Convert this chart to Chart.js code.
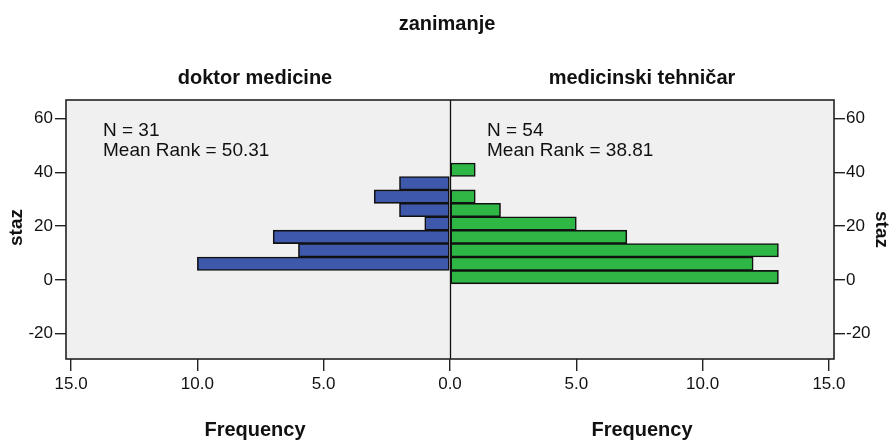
<!DOCTYPE html>
<html>
<head>
<meta charset="utf-8">
<title>zanimanje – staz</title>
<script src="https://cdn.jsdelivr.net/npm/chart.js@4/dist/chart.umd.min.js"></script>
<style>
  html, body { margin: 0; padding: 0; background: #ffffff; }
  #wrap { width: 891px; height: 441px; position: relative; }
</style>
</head>
<body>
<div id="wrap"><canvas id="pyr" width="891" height="441"></canvas></div>
<script>
// staz bins (mid-points, years) and frequencies per group
const stazBins = [1, 6, 11, 16, 21, 26, 31, 36, 41];
const doktorCounts = [0, 10, 6, 7, 1, 2, 3, 2, 0];
const tehnicarCounts = [13, 12, 13, 7, 5, 2, 1, 0, 1];

const groupNames = ['doktor medicine', 'medicinski tehničar'];
const groupN = [31, 54];
const groupMeanRank = ['50.31', '38.81'];

const stazTicks = [-20, 0, 20, 40, 60];
const freqTicks = [-15, -10, -5, 0, 5, 10, 15];

const FONT = "'Liberation Sans', Arial, sans-serif";
const TICK_FONT = { family: FONT, size: 17 };
const TICK_FONT_X = { family: FONT, size: 17 };

// left half grows to the left: store as negative frequencies
const leftData = stazBins.map((b, i) => ({ y: b, x: doktorCounts[i] ? -doktorCounts[i] : null }));
const rightData = stazBins.map((b, i) => ({ y: b, x: tehnicarCounts[i] ? tehnicarCounts[i] : null }));

const panelDecor = {
  id: 'panelDecor',
  beforeDatasetsDraw(chart) {
    const { ctx, chartArea: a } = chart;
    ctx.save();
    ctx.fillStyle = '#f0f0f0';
    ctx.fillRect(a.left, a.top, a.right - a.left, a.bottom - a.top);
    ctx.restore();
  },
  afterDatasetsDraw(chart) {
    const { ctx, chartArea: a, scales } = chart;
    const x0 = Math.round(scales.x.getPixelForValue(0)) + 0.5;
    ctx.save();
    ctx.strokeStyle = '#111';
    ctx.lineWidth = 1.3;
    ctx.beginPath();
    ctx.moveTo(x0, a.top);
    ctx.lineTo(x0, a.bottom);
    ctx.stroke();
    ctx.strokeStyle = '#222';
    ctx.lineWidth = 1.6;
    ctx.strokeRect(a.left, a.top, a.right - a.left, a.bottom - a.top);
    ctx.restore();
  },
  afterDraw(chart) {
    const { ctx, chartArea: a, scales } = chart;
    const x0 = scales.x.getPixelForValue(0);
    const leftMid = (a.left + x0) / 2 - 3;
    const rightMid = (x0 + a.right) / 2;
    ctx.save();
    ctx.fillStyle = '#111';
    ctx.textAlign = 'center';
    ctx.textBaseline = 'middle';
    ctx.font = 'bold 20px ' + FONT;
    ctx.fillText('zanimanje', x0 - 3, 24);
    ctx.fillText(groupNames[0], leftMid, 78);
    ctx.fillText(groupNames[1], rightMid, 78);
    ctx.fillText('Frequency', leftMid, 430);
    ctx.fillText('Frequency', rightMid, 430);

    // staz titles on both sides
    ctx.font = 'bold 19px ' + FONT;
    ctx.save();
    ctx.translate(17, (a.top + a.bottom) / 2 - 2);
    ctx.rotate(-Math.PI / 2);
    ctx.fillText('staz', 0, 0);
    ctx.restore();
    ctx.save();
    ctx.translate(881, (a.top + a.bottom) / 2);
    ctx.rotate(Math.PI / 2);
    ctx.fillText('staz', 0, 0);
    ctx.restore();

    // group statistics
    ctx.textAlign = 'left';
    ctx.textBaseline = 'alphabetic';
    ctx.font = '19px ' + FONT;
    const lx = a.left + 37, rx = x0 + 37;
    ctx.fillText('N = ' + groupN[0], lx, 136);
    ctx.fillText('Mean Rank = ' + groupMeanRank[0], lx, 156);
    ctx.fillText('N = ' + groupN[1], rx, 136);
    ctx.fillText('Mean Rank = ' + groupMeanRank[1], rx, 156);
    ctx.restore();
  }
};

const fixedTicks = (values) => (scale) => {
  scale.ticks = values.map(v => ({ value: v }));
};

const tickGrid = (len) => ({
  offset: false,
  drawOnChartArea: false,
  drawTicks: true,
  tickLength: len,
  tickColor: '#222',
  lineWidth: 1.4
});

new Chart(document.getElementById('pyr'), {
  type: 'bar',
  data: {
    datasets: [
      {
        label: groupNames[0],
        data: leftData,
        backgroundColor: '#3e58ac',
        borderColor: '#111',
        borderWidth: 1.6,
        borderSkipped: false,
        grouped: false,
        barPercentage: 1,
        categoryPercentage: 1
      },
      {
        label: groupNames[1],
        data: rightData,
        backgroundColor: '#2fb746',
        borderColor: '#111',
        borderWidth: 1.6,
        borderSkipped: false,
        grouped: false,
        barPercentage: 1,
        categoryPercentage: 1
      }
    ]
  },
  options: {
    responsive: false,
    animation: false,
    indexAxis: 'y',
    layout: { padding: { top: 100, left: 0, right: 0, bottom: 0 } },
    plugins: {
      legend: { display: false },
      tooltip: { enabled: false },
      title: { display: false }
    },
    scales: {
      x: {
        type: 'linear',
        position: 'bottom',
        offset: false,
        min: -15.2,
        max: 15.2,
        afterBuildTicks: fixedTicks(freqTicks),
        afterFit: (s) => { s.height = 82; },
        border: { display: false },
        grid: tickGrid(12),
        ticks: {
          color: '#111',
          padding: 3,
          maxRotation: 0,
          font: TICK_FONT_X,
          callback: (v) => Math.abs(v).toFixed(1)
        }
      },
      y: {
        type: 'linear',
        position: 'left',
        offset: false,
        min: -29.5,
        max: 67,
        afterBuildTicks: fixedTicks(stazTicks),
        afterFit: (s) => { s.width = 66; },
        border: { display: false },
        grid: tickGrid(11),
        ticks: { color: '#111', padding: 2, font: TICK_FONT }
      },
      y2: {
        type: 'linear',
        position: 'right',
        offset: false,
        min: -29.5,
        max: 67,
        afterBuildTicks: fixedTicks(stazTicks),
        afterFit: (s) => { s.width = 57; },
        border: { display: false },
        grid: tickGrid(11),
        ticks: { color: '#111', padding: 1, font: TICK_FONT }
      }
    }
  },
  plugins: [panelDecor]
});
</script>
</body>
</html>
